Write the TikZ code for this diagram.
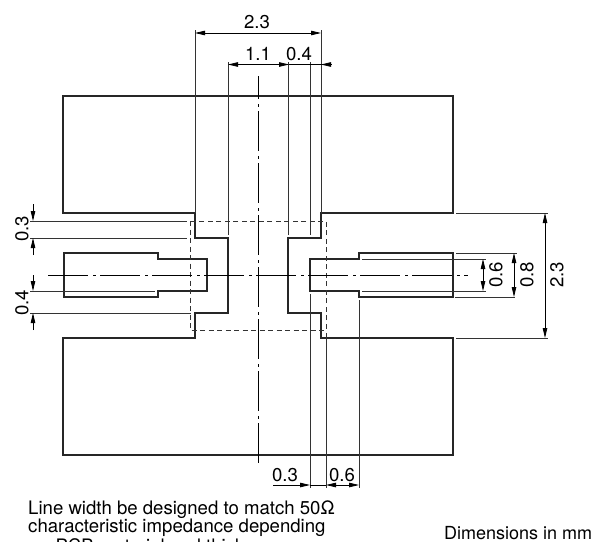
\documentclass[tikz,border=0pt]{standalone}
\usepackage{fontspec}
\setmainfont{TeX Gyre Heros}
\usetikzlibrary{arrows.meta}
\tikzset{
	outline/.style={line width=1.2pt, draw=black!85},
	extline/.style={line width=0.8pt, draw=black!80},
	hidden/.style={line width=0.8pt, draw=black!80, dash pattern=on 5pt off 3.5pt},
	axisline/.style={line width=0.8pt, draw=black, dash pattern=on 40pt off 5pt on 3pt off 4pt},
	dimline/.style={line width=0.8pt, draw=black, >={Stealth[length=10pt,width=4.5pt,inset=0pt]}},
	dimlabel/.style={font=\fontsize{18.6}{18.6}\selectfont, inner sep=0pt},
}
\begin{document}
\begin{tikzpicture}[x=1pt, y=-1pt]
			\useasboundingbox (0,0) rectangle (599,541);
			% pad outline
			\draw[outline] (63,96) -- (453,96) -- (453,213) -- (321,213) -- (321,238) -- (288,238) -- (288,313) -- (321,313) -- (321,338) -- (453,338) -- (453,455) -- (63,455) -- (63,338) -- (195,338) -- (195,313) -- (228,313) -- (228,238) -- (195,238) -- (195,213) -- (63,213) -- cycle;
			\draw[outline] (64,253) -- (158,253) -- (158,259) -- (207,259) -- (207,291) -- (158,291) -- (158,297) -- (64,297) -- cycle;
			\draw[outline] (453,253) -- (359,253) -- (359,259) -- (310,259) -- (310,291) -- (359,291) -- (359,297) -- (453,297) -- cycle;
			\draw[hidden] (190,221) rectangle (326,330);
			\draw[axisline] (48,275.5) -- (468,275.5);
			\draw[axisline, dash phase=17pt] (258.5,76) -- (258.5,465);
			% extension lines
			\foreach \xa/\ya/\yb in {195/30/213, 321/30/213, 228/62/235, 288/62/235, 310/62/235, 310/294/488, 326/333/488, 359/300/488}
				\draw[extline] (\xa,\ya) -- (\xa,\yb);
			\foreach \ya/\xa/\xb in {221/30/187, 238/30/187, 291/30/155, 313/30/191, 213/456/548, 338/456/548, 253/456/517, 297/455/515, 259/362/486, 291/362/486}
				\draw[extline] (\xa,\ya) -- (\xb,\ya);
			% dimensions
			\path[dimline]
			(195,33) edge[<->] (321,33)
			(228,64.5) edge[<->] (289,64.5)
			(331,64.5) edge[->] (321,64.5)
			(289,64.5) edge (331,64.5)
			(273,485) edge[->] (310,485)
			(310,485) edge (326,485)
			(326,485) edge[<->] (359,485)
			(33,204) edge[->] (33,221)
			(33,255) edge[->] (33,238)
			(33,275) edge[->] (33,291)
			(33,330) edge[->] (33,313)
			(545,213) edge[<->] (545,338)
			(514,253) edge[<->] (514,297)
			(483,259) edge[<->] (483,291);
			% labels
			\node[dimlabel] (topwidth) at (257,22) {2.3};
			\node[dimlabel] (centregap) at (258,54) {1.1};
			\node[dimlabel] (topstrip) at (299,54) {0.4};
			\node[dimlabel] (lowgap) at (285,475) {0.3};
			\node[dimlabel] (lowstrip) at (342,475) {0.6};
			\node[dimlabel, rotate=90] (leftgap) at (22,229) {0.3};
			\node[dimlabel, rotate=90] (leftstrip) at (22,303) {0.4};
			\node[dimlabel, rotate=90] (traceinner) at (496,275) {0.6};
			\node[dimlabel, rotate=90] (traceouter) at (527,275) {0.8};
			\node[dimlabel, rotate=90] (padgap) at (557,275) {2.3};
			\node[dimlabel, anchor=west] (noteone) at (28,510) {Line width be designed to match 50Ω};
			\node[dimlabel, anchor=west] (notetwo) at (28,528) {characteristic impedance depending};
			\node[dimlabel, anchor=west] (notethree) at (29.5,546) {on PCB material and thickness};
			\node[dimlabel, anchor=west, font=\fontsize{18}{18}\selectfont] (units) at (444,533) {Dimensions in mm};
		\end{tikzpicture}
\end{document}
